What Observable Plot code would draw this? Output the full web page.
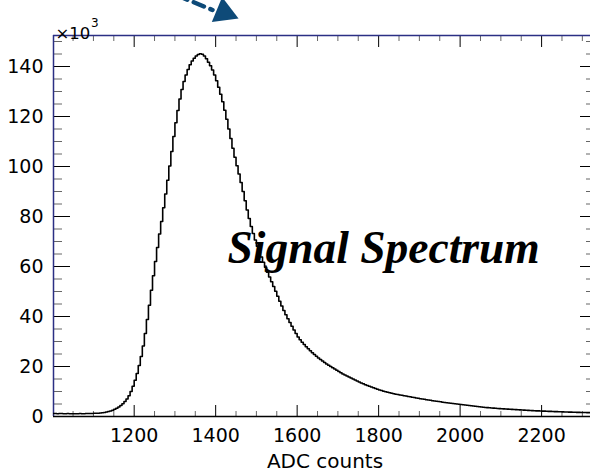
<!DOCTYPE html>
<html><head><meta charset="utf-8">
<script src="https://cdn.jsdelivr.net/npm/d3@7"></script>
<script src="https://cdn.jsdelivr.net/npm/@observablehq/plot@0.6"></script>
<style>html,body{margin:0;padding:0;background:#fff;} #chart{width:590px;height:476px;overflow:hidden}</style>
</head><body><div id="chart"></div>
<script>
// Histogram: bins of 5 ADC counts starting at 1000; counts in thousands (×10^3)
const binStart = 1000;
const binWidth = 5;
const counts = [
  1.2,1.2,1.1,1.2,1.2,1.1,1.1,1.2,1.1,1.1,        // 1000
  1.1,1.1,1.1,1.2,1.1,1.1,1.2,1.2,1.2,1.2,        // 1050
  1.3,1.3,1.3,1.4,1.5,1.6,1.8,2.0,2.2,2.5,        // 1100
  2.9,3.3,3.8,4.4,5.1,6.0,7.0,8.3,10.0,12.1,      // 1150
  14.5,17.2,20.4,24.0,28.2,33.2,38.8,44.5,50.5,56.3, // 1200
  62.0,67.6,73.0,78.0,83.5,89.0,94.5,100.2,106.0,112.0, // 1250
  117.5,122.4,127.0,130.8,134.0,136.6,138.8,140.7,142.2,143.3, // 1300
  144.2,144.8,145.1,144.9,144.2,143.1,141.7,140.3,138.6,136.6, // 1350
  134.3,131.7,128.9,125.9,122.5,118.9,115.0,111.2,107.3,103.7, // 1400
  100.3,97.0,93.6,90.0,86.3,82.6,79.2,76.0,73.2,70.6, // 1450
  68.1,65.9,63.8,61.7,59.7,57.7,55.8,53.9,52.0,50.1, // 1500
  48.1,46.1,44.2,42.4,40.7,39.1,37.6,36.1,34.6,33.2, // 1550
  31.8,30.7,29.7,28.8,27.9,27.1,26.3,25.5,24.8,24.1, // 1600
  23.4,22.8,22.2,21.6,21.0,20.5,20.0,19.5,19.0,18.5, // 1650
  18.0,17.5,17.0,16.6,16.2,15.8,15.4,15.0,14.6,14.2, // 1700
  13.8,13.4,13.1,12.7,12.4,12.1,11.8,11.5,11.2,10.9, // 1750
  10.6,10.4,10.1,9.9,9.7,9.5,9.3,9.1,8.9,8.8,     // 1800
  8.6,8.5,8.3,8.2,8.0,7.9,7.7,7.6,7.4,7.3,        // 1850
  7.1,7.0,6.9,6.7,6.6,6.5,6.3,6.2,6.1,6.0,        // 1900
  5.9,5.7,5.6,5.5,5.4,5.3,5.2,5.1,5.0,4.9,        // 1950
  4.8,4.7,4.6,4.5,4.4,4.3,4.2,4.1,4.0,3.9,        // 2000
  3.8,3.7,3.6,3.55,3.5,3.4,3.35,3.3,3.2,3.15,     // 2050
  3.1,3.05,3.0,2.95,2.9,2.85,2.8,2.75,2.7,2.65,   // 2100
  2.6,2.55,2.5,2.45,2.4,2.35,2.3,2.27,2.24,2.2,   // 2150
  2.17,2.14,2.1,2.07,2.04,2.0,1.97,1.94,1.91,1.88, // 2200
  1.85,1.82,1.8,1.77,1.75,1.72,1.7,1.67,1.65,1.62, // 2250
  1.6,1.58,1.56,1.54                              // 2300
];
const xMajorTicks = [1200, 1400, 1600, 1800, 2000, 2200];
const yMajorTicks = [0, 20, 40, 60, 80, 100, 120, 140];
const xMinorTicks = d3.range(1050, 2320, 50).filter(d => d % 200 !== 0);
const yMinorTicks = d3.range(5, 152, 5).filter(d => d % 20 !== 0);
const xDomain = [1002, 2320];
const yDomain = [0, 152.4];
const titleText = "Signal Spectrum";
const titleX = 1429, titleY = 67.2;
const xLabel = "ADC counts";
const arrowX = [1264.6, 1392.2];
const arrowY = [171.2, 162.6];
const arrowHead = [{x: 1420.9, y: 161.6}];

const W = 590, H = 476, mT = 35, mB = 60, mL = 53, mR = 0;
const innerW = W - mL - mR, innerH = H - mT - mB;
const navy = "#2b2f84", arrowColor = "#0e4a78";

const hist = counts.map((v, i) => ({x: binStart + i * binWidth, y: v}));
hist.push({x: binStart + counts.length * binWidth, y: counts[counts.length - 1]});
const arrowLine = arrowX.map((x, i) => ({x, y: arrowY[i]}));

const tickFont = "DejaVu Sans";
const chart = Plot.plot({
  width: W, height: H,
  marginTop: mT, marginBottom: mB, marginLeft: mL, marginRight: mR,
  x: {domain: xDomain},
  y: {domain: yDomain},
  style: {fontFamily: tickFont, color: "black", background: "white", overflow: "hidden"},
  marks: [
    Plot.text([titleText], {x: () => titleX, y: () => titleY, text: d => d, textAnchor: "start",
      fontFamily: "Liberation Serif", fontWeight: "bold", fontStyle: "italic", fontSize: 45.5, fill: "black"}),
    // ticks bottom
    Plot.ruleX(xMajorTicks, {x: d => d, insetTop: innerH - 11, stroke: "black", strokeWidth: 1}),
    Plot.ruleX(xMinorTicks, {x: d => d, insetTop: innerH - 5, stroke: "#666", strokeWidth: 1}),
    // ticks top
    Plot.ruleX(xMajorTicks, {x: d => d, insetBottom: innerH - 12, stroke: "black", strokeWidth: 1}),
    Plot.ruleX(xMinorTicks, {x: d => d, insetBottom: innerH - 6, stroke: "#666", strokeWidth: 1}),
    // ticks left
    Plot.ruleY(yMajorTicks, {y: d => d, insetRight: innerW - 17, stroke: "black", strokeWidth: 1}),
    Plot.ruleY(yMinorTicks, {y: d => d, insetRight: innerW - 9, stroke: "#666", strokeWidth: 1}),
    // ticks right
    Plot.ruleY(yMajorTicks, {y: d => d, insetLeft: innerW - 10, stroke: "black", strokeWidth: 1}),
    Plot.ruleY(yMinorTicks, {y: d => d, insetLeft: innerW - 4, stroke: "#666", strokeWidth: 1}),
    // frame
    Plot.ruleX([xDomain[0]], {x: d => d, stroke: navy, strokeWidth: 1.5}),
    Plot.ruleY([yDomain[1]], {y: d => d, stroke: navy, strokeWidth: 1.5}),
    Plot.ruleY([0], {y: d => d, stroke: "black", strokeWidth: 1.5}),
    // histogram
    Plot.line(hist, {x: "x", y: "y", curve: "step-after", stroke: "black", strokeWidth: 1.6, clip: true}),
    // axis labels
    Plot.axisX({ticks: xMajorTicks, tickSize: 0, tickPadding: 12, fontSize: 19, tickFormat: d => String(d), label: null, fill: "black"}),
    Plot.axisY({ticks: yMajorTicks, tickSize: 0, tickPadding: 10, fontSize: 19, tickFormat: d => String(d), label: null, fill: "black"}),
    Plot.text([xLabel], {frameAnchor: "bottom", dy: 51, dx: 3, fontSize: 20, fill: "black"}),
    Plot.text(["×10"], {frameAnchor: "top-left", textAnchor: "start", dx: 2, dy: -8, fontSize: 16.5, fill: "black"}),
    Plot.text(["3"], {frameAnchor: "top-left", textAnchor: "start", dx: 37.5, dy: -17, fontSize: 12, fill: "black"}),
    // arrow
    Plot.line(arrowLine, {x: "x", y: "y", stroke: arrowColor, strokeWidth: 4.5, strokeDasharray: "11,7"}),
    Plot.dot(arrowHead, {x: "x", y: "y", symbol: "triangle", r: 10, fill: arrowColor, stroke: "none", rotate: 112.5})
  ]
});
document.getElementById("chart").appendChild(chart);
</script>
</body></html>
